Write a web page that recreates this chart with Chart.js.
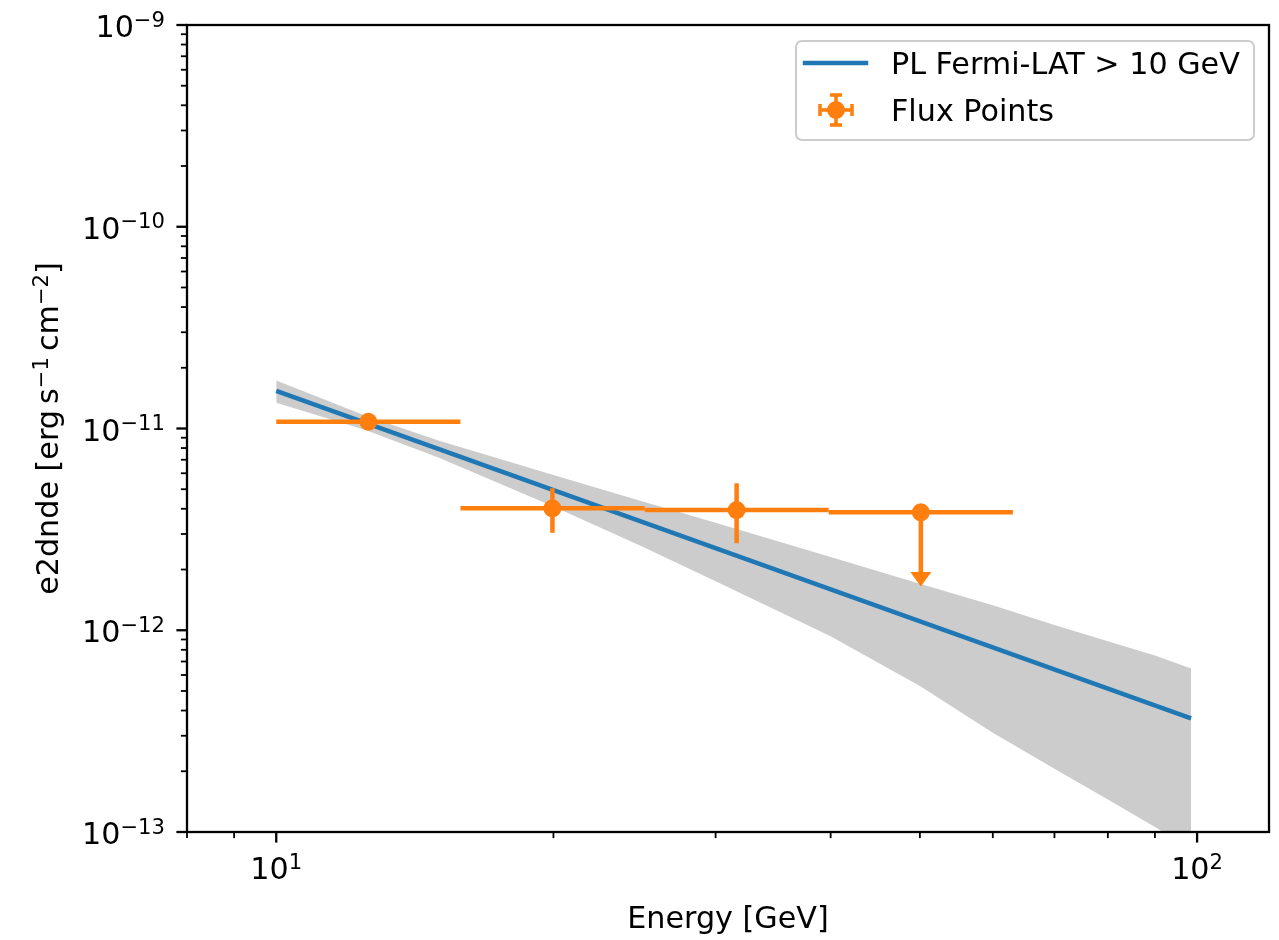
<!DOCTYPE html>
<html>
<head>
<meta charset="UTF-8">
<title>Fermi-LAT SED</title>
<script src="https://cdn.jsdelivr.net/npm/chart.js"></script>
<style>
  html, body { margin: 0; padding: 0; background: #ffffff; }
  #wrap { position: relative; width: 1279px; height: 940px; }
</style>
</head>
<body>
<div id="wrap"><canvas id="sed" width="1279" height="940"></canvas></div>
<script>
// Flux points: energy [GeV], bin edges, e2dnde [erg s^-1 cm^-2]
const fluxEnergy = [12.59, 19.95, 31.62, 50.12];
const fluxEnergyMin = [10.0, 15.85, 25.12, 39.81];
const fluxEnergyMax = [15.85, 25.12, 39.81, 63.10];
const fluxValue = [1.08e-11, 4.02e-12, 3.94e-12, 3.84e-12];
const fluxErrLow = [0.08e-11, 0.98e-12, 1.24e-12, 0];
const fluxErrHigh = [0.09e-11, 1.04e-12, 1.41e-12, 0];
const fluxIsUL = [false, false, false, true];
const ulArrowFraction = 0.5;

// Power-law model (straight in log-log) and its error band
const modelEnergy = [10, 98.5];
const modelValue = [1.535e-11, 3.66e-13];
const bandEnergy = [10, 12.5, 15, 20, 25, 30, 40, 50, 60, 70, 80, 90, 98.5];
const bandUpper = [1.728e-11, 1.156e-11, 8.71e-12, 5.88e-12, 4.35e-12, 3.41e-12, 2.31e-12,
                   1.70e-12, 1.33e-12, 1.063e-12, 8.83e-13, 7.49e-13, 6.47e-13];
const bandLower = [1.342e-11, 9.82e-12, 7.19e-12, 4.10e-12, 2.59e-12, 1.75e-12, 9.33e-13,
                   5.30e-13, 3.10e-13, 2.06e-13, 1.45e-13, 1.06e-13, 0.83e-13];

// Axis ticks
const xMajorTicks = [10, 100];
const xMajorLabels = [['10', '1'], ['10', '2']];
const xMinorTicks = [8, 9, 20, 30, 40, 50, 60, 70, 80, 90];
const yMajorTicks = [1e-13, 1e-12, 1e-11, 1e-10, 1e-9];
const yMajorLabels = [['10', '\u221213'], ['10', '\u221212'], ['10', '\u221211'], ['10', '\u221210'], ['10', '\u22129']];
const yMinorTicks = [
  2e-13, 3e-13, 4e-13, 5e-13, 6e-13, 7e-13, 8e-13, 9e-13,
  2e-12, 3e-12, 4e-12, 5e-12, 6e-12, 7e-12, 8e-12, 9e-12,
  2e-11, 3e-11, 4e-11, 5e-11, 6e-11, 7e-11, 8e-11, 9e-11,
  2e-10, 3e-10, 4e-10, 5e-10, 6e-10, 7e-10, 8e-10, 9e-10
];

const BLUE = '#1f77b4';
const ORANGE = '#ff7f0e';
const FONT = '"DejaVu Sans", sans-serif';
const FS = 30.2;
const SUP = FS * 0.7;
const SUP_RISE = 10.3;
const LW = 4.5;

// draws a run of [text, isSuperscript] pieces starting at x on baseline y
function drawRich(ctx, parts, x, y, measureOnly) {
  let cx = x;
  parts.forEach(([txt, sup]) => {
    ctx.font = (sup ? SUP : FS) + 'px ' + FONT;
    if (!measureOnly) ctx.fillText(txt, cx, sup ? y - SUP_RISE : y);
    cx += ctx.measureText(txt).width;
  });
  return cx - x;
}

function seg(ctx, x1, y1, x2, y2) {
  ctx.beginPath(); ctx.moveTo(x1, y1); ctx.lineTo(x2, y2); ctx.stroke();
}

const sedDecor = {
  id: 'sedDecor',
  afterDatasetsDraw(chart) {
    const { ctx, chartArea: a, scales: { x, y } } = chart;
    ctx.save();
    ctx.beginPath();
    ctx.rect(a.left, a.top, a.right - a.left, a.bottom - a.top);
    ctx.clip();
    ctx.strokeStyle = ORANGE;
    ctx.fillStyle = ORANGE;
    ctx.lineWidth = LW;
    fluxEnergy.forEach((e, i) => {
      const px = x.getPixelForValue(e);
      const py = y.getPixelForValue(fluxValue[i]);
      seg(ctx, x.getPixelForValue(fluxEnergyMin[i]), py, x.getPixelForValue(fluxEnergyMax[i]), py);
      if (fluxIsUL[i]) {
        const base = y.getPixelForValue(fluxValue[i] * ulArrowFraction);
        seg(ctx, px, py, px, base);
        ctx.beginPath();
        ctx.moveTo(px - 10.5, base - 1);
        ctx.lineTo(px + 10.5, base - 1);
        ctx.lineTo(px, base + 13.5);
        ctx.closePath();
        ctx.fill();
      } else {
        seg(ctx, px, y.getPixelForValue(fluxValue[i] + fluxErrHigh[i]),
                 px, y.getPixelForValue(fluxValue[i] - fluxErrLow[i]));
      }
    });
    ctx.restore();
  },
  afterDraw(chart) {
    const { ctx, chartArea: a, scales: { x, y } } = chart;
    ctx.save();

    // frame
    ctx.strokeStyle = '#000000';
    ctx.lineWidth = 2.3;
    ctx.strokeRect(a.left, a.top, a.right - a.left, a.bottom - a.top);

    // tick marks
    ctx.lineWidth = 2.3;
    xMajorTicks.forEach(v => { const p = x.getPixelForValue(v); seg(ctx, p, a.bottom, p, a.bottom + 10.6); });
    yMajorTicks.forEach(v => { const p = y.getPixelForValue(v); seg(ctx, a.left, p, a.left - 10.6, p); });
    ctx.lineWidth = 1.8;
    xMinorTicks.forEach(v => { const p = x.getPixelForValue(v); seg(ctx, p, a.bottom, p, a.bottom + 6.1); });
    yMinorTicks.forEach(v => { const p = y.getPixelForValue(v); seg(ctx, a.left, p, a.left - 6.1, p); });

    // tick labels
    ctx.fillStyle = '#000000';
    ctx.textAlign = 'left';
    ctx.textBaseline = 'alphabetic';
    xMajorTicks.forEach((v, i) => {
      const parts = [[xMajorLabels[i][0], false], [xMajorLabels[i][1], true]];
      const w = drawRich(ctx, parts, 0, 0, true);
      drawRich(ctx, parts, x.getPixelForValue(v) - w / 2, a.bottom + 47);
    });
    yMajorTicks.forEach((v, i) => {
      const parts = [[yMajorLabels[i][0], false], [yMajorLabels[i][1], true]];
      const w = drawRich(ctx, parts, 0, 0, true);
      drawRich(ctx, parts, a.left - 22 - w, y.getPixelForValue(v) + 12);
    });

    // axis titles
    const xt = [['Energy [GeV]', false]];
    const xw = drawRich(ctx, xt, 0, 0, true);
    drawRich(ctx, xt, (a.left + a.right) / 2 - xw / 2, 928);

    const yt = [['e2dnde [erg\u2009s', false], ['\u22121', true], ['\u2009cm', false], ['\u22122', true], [']', false]];
    const yw = drawRich(ctx, yt, 0, 0, true);
    ctx.translate(58, (a.top + a.bottom) / 2);
    ctx.rotate(-Math.PI / 2);
    drawRich(ctx, yt, -yw / 2, 0);
    ctx.setTransform(1, 0, 0, 1, 0, 0);

    // legend
    const lx = 796, ly = 41, lw = 458, lh = 99;
    ctx.beginPath();
    ctx.roundRect(lx, ly, lw, lh, 6);
    ctx.fillStyle = 'rgba(255,255,255,0.8)';
    ctx.fill();
    ctx.strokeStyle = '#cccccc';
    ctx.lineWidth = 2;
    ctx.stroke();

    const entries = chart.data.datasets
      .filter(d => d.legendRow !== undefined)
      .sort((p, q) => p.legendRow - q.legendRow);
    const rowY = [63, 110];
    entries.forEach((d, i) => {
      const cy = rowY[i];
      if (d.legendKind === 'line') {
        ctx.strokeStyle = d.borderColor;
        ctx.lineWidth = LW;
        ctx.lineCap = 'square';
        seg(ctx, 805, cy, 866, cy);
        ctx.lineCap = 'butt';
      } else {
        const cx = 836;
        ctx.strokeStyle = ORANGE;
        ctx.fillStyle = ORANGE;
        ctx.lineWidth = 3.6;
        seg(ctx, cx - 16, cy, cx + 16, cy);
        seg(ctx, cx, cy - 15, cx, cy + 15);
        seg(ctx, cx - 16, cy - 6, cx - 16, cy + 6);
        seg(ctx, cx + 16, cy - 6, cx + 16, cy + 6);
        seg(ctx, cx - 6, cy - 15, cx + 6, cy - 15);
        seg(ctx, cx - 6, cy + 15, cx + 6, cy + 15);
        ctx.beginPath();
        ctx.arc(cx, cy, 9, 0, Math.PI * 2);
        ctx.fill();
      }
      ctx.fillStyle = '#000000';
      drawRich(ctx, [[d.label, false]], 891, cy + 11);
    });

    ctx.restore();
  }
};

const sedChart = new Chart(document.getElementById('sed'), {
  type: 'line',
  data: {
    datasets: [
      {
        label: 'Flux Points',
        type: 'scatter',
        data: fluxEnergy.map((e, i) => ({ x: e, y: fluxValue[i] })),
        pointRadius: 9,
        pointHoverRadius: 9,
        pointBackgroundColor: ORANGE,
        pointBorderWidth: 0,
        showLine: false,
        order: 0,
        legendRow: 1,
        legendKind: 'errorbar'
      },
      {
        label: 'PL Fermi-LAT > 10 GeV',
        data: modelEnergy.map((e, i) => ({ x: e, y: modelValue[i] })),
        borderColor: BLUE,
        borderWidth: LW,
        pointRadius: 0,
        fill: false,
        order: 1,
        legendRow: 0,
        legendKind: 'line'
      },
      {
        label: 'band upper',
        data: bandEnergy.map((e, i) => ({ x: e, y: bandUpper[i] })),
        borderWidth: 0,
        borderColor: 'rgba(0,0,0,0)',
        pointRadius: 0,
        backgroundColor: '#cccccc',
        fill: '+1',
        clip: 0,
        order: 2
      },
      {
        label: 'band lower',
        data: bandEnergy.map((e, i) => ({ x: e, y: bandLower[i] })),
        borderWidth: 0,
        borderColor: 'rgba(0,0,0,0)',
        pointRadius: 0,
        fill: false,
        clip: 0,
        order: 3
      }
    ]
  },
  options: {
    responsive: false,
    animation: false,
    devicePixelRatio: 1,
    events: [],
    layout: { padding: { top: 25, right: 10, left: 0, bottom: 0 } },
    plugins: { legend: { display: false }, tooltip: { enabled: false } },
    scales: {
      x: {
        type: 'logarithmic',
        bounds: 'data',
        min: 8.0,
        max: 119.7,
        grid: { display: false },
        border: { display: false },
        ticks: { display: false },
        afterFit(s) { s.height = 108; }
      },
      y: {
        type: 'logarithmic',
        bounds: 'data',
        min: 1e-13,
        max: 1e-9,
        grid: { display: false },
        border: { display: false },
        ticks: { display: false },
        afterFit(s) { s.width = 187; }
      }
    }
  },
  plugins: [sedDecor]
});
</script>
</body>
</html>
